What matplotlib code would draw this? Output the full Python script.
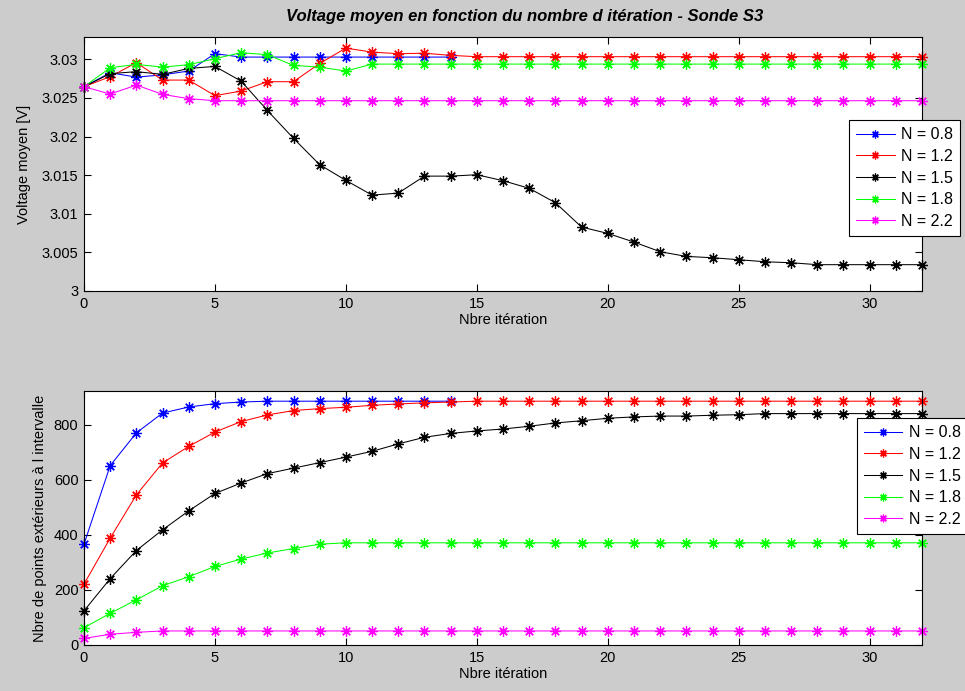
import matplotlib
matplotlib.use("Agg")
import matplotlib.pyplot as plt
from matplotlib.ticker import FuncFormatter

# ---------------- data ----------------
iters = list(range(33))
iters_short = list(range(15))
labels = ["N = 0.8", "N = 1.2", "N = 1.5", "N = 1.8", "N = 2.2"]
colors = ["#0000ff", "#ff0000", "#000000", "#00ff00", "#ff00ff"]

v_08 = [3.02646, 3.02827, 3.02770, 3.02800, 3.02849, 3.03074, 3.03030, 3.03030,
        3.03030, 3.03030, 3.03030, 3.03030, 3.03030, 3.03030, 3.03030]
v_12 = [3.02646, 3.02776, 3.02957, 3.02732, 3.02732, 3.02530, 3.02590, 3.02711,
        3.02711, 3.02948, 3.03146, 3.03094, 3.03074, 3.03080, 3.03052, 3.03035,
        3.03035, 3.03035, 3.03035, 3.03035, 3.03035, 3.03035, 3.03035, 3.03035,
        3.03035, 3.03035, 3.03035, 3.03035, 3.03035, 3.03035, 3.03035, 3.03035,
        3.03035]
v_15 = [3.02646, 3.02815, 3.02841, 3.02806, 3.02883, 3.02909, 3.02719, 3.02339,
        3.01977, 3.01636, 3.01433, 3.01242, 3.01268, 3.01488, 3.01488, 3.01506,
        3.01429, 3.01330, 3.01144, 3.00828, 3.00746, 3.00634, 3.00509, 3.00448,
        3.00431, 3.00405, 3.00379, 3.00366, 3.00341, 3.00341, 3.00341, 3.00341,
        3.00341]
v_18 = [3.02646, 3.02892, 3.02935, 3.02900, 3.02931, 3.03009, 3.03087, 3.03061,
        3.02922, 3.02900, 3.02849, 3.02939, 3.02939, 3.02939, 3.02939, 3.02939,
        3.02939, 3.02939, 3.02939, 3.02939, 3.02939, 3.02939, 3.02939, 3.02939,
        3.02939, 3.02939, 3.02939, 3.02939, 3.02939, 3.02939, 3.02939, 3.02939,
        3.02939]
v_22 = [3.02646, 3.02551, 3.02667, 3.02547, 3.02491, 3.02465, 3.02465, 3.02465,
        3.02465, 3.02465, 3.02465, 3.02465, 3.02465, 3.02465, 3.02465, 3.02465,
        3.02465, 3.02465, 3.02465, 3.02465, 3.02465, 3.02465, 3.02465, 3.02465,
        3.02465, 3.02465, 3.02465, 3.02465, 3.02465, 3.02465, 3.02465, 3.02465,
        3.02465]

n_08 = [366, 651, 770, 842, 864, 876, 882, 885, 885, 885, 885, 885, 885, 885, 885]
n_12 = [221, 388, 545, 661, 721, 773, 811, 835, 851, 858, 863, 870, 875, 879, 882,
        885, 885, 885, 885, 885, 885, 885, 885, 885, 885, 885, 885, 885, 885, 885,
        885, 885, 885]
n_15 = [124, 241, 343, 418, 487, 550, 588, 622, 642, 662, 682, 703, 730, 754, 768,
        777, 784, 794, 806, 814, 823, 828, 831, 831, 834, 836, 840, 840, 840, 840,
        840, 840, 840]
n_18 = [63, 115, 164, 215, 248, 285, 312, 334, 350, 366, 371, 371, 371, 371, 371,
        371, 371, 371, 371, 371, 371, 371, 371, 371, 371, 371, 371, 371, 371, 371,
        371, 371, 371]
n_22 = [24, 39, 46, 51, 51, 51, 51, 51, 51, 51, 51, 51, 51, 51, 51, 51, 51, 51, 51,
        51, 51, 51, 51, 51, 51, 51, 51, 51, 51, 51, 51, 51, 51]

title = "Voltage moyen en fonction du nombre d itération - Sonde S3"
xlabel = "Nbre itération"
ylabel_top = "Voltage moyen [V]"
ylabel_bot = "Nbre de points extérieurs à l intervalle"
xticks = [0, 5, 10, 15, 20, 25, 30]
yticks_top = [3.0, 3.005, 3.01, 3.015, 3.02, 3.025, 3.03]
yticks_bot = [0, 200, 400, 600, 800]

# ---------------- style ----------------
plt.rcParams['font.family'] = ['Liberation Sans', 'DejaVu Sans']
plt.rcParams['font.size'] = 10.5

W, H = 965, 691
fig = plt.figure(figsize=(W / 100, H / 100), dpi=100, facecolor='#cccccc')

def frac(l, t, r, b):
    return [l / W, 1 - b / H, (r - l) / W, (b - t) / H]

ax1 = fig.add_axes(frac(84, 37, 922, 291))
ax2 = fig.add_axes(frac(84, 391, 922, 645))

top_series = [(iters_short, v_08), (iters, v_12), (iters, v_15), (iters, v_18), (iters, v_22)]
bot_series = [(iters_short, n_08), (iters, n_12), (iters, n_15), (iters, n_18), (iters, n_22)]

ASTERISK = (8, 2, 0)

for ax, series in ((ax1, top_series), (ax2, bot_series)):
    for (xs, ys), c, lab in zip(series, colors, labels):
        ax.plot(xs, ys, color=c, marker=ASTERISK, markersize=7.5, markeredgewidth=0.9,
                linewidth=0.75, label=lab, clip_on=False)
    ax.set_xlim(0, 32)
    ax.set_xticks(xticks)
    ax.set_facecolor('white')
    ax.tick_params(direction='in', length=5, width=0.8, top=True, right=True,
                   labelsize=10.5, pad=4)
    for s in ax.spines.values():
        s.set_linewidth(0.8)
    ax.set_xlabel(xlabel, fontsize=10.5, labelpad=2)

ax1.set_ylim(3.0, 3.0329)
ax1.set_yticks(yticks_top)
ax1.yaxis.set_major_formatter(FuncFormatter(lambda v, p: ('%g' % round(v, 4))))
ax1.set_ylabel(ylabel_top, fontsize=10.5, labelpad=8)

ax2.set_ylim(0, 922)
ax2.set_yticks(yticks_bot)
ax2.set_ylabel(ylabel_bot, fontsize=10.5, labelpad=5)

fig.text(525 / W, 1 - 17 / H, title, ha='center', va='center', fontsize=12,
         fontweight='bold', style='italic')

leg_kw = dict(loc='upper left', fontsize=11.5, frameon=True, fancybox=False,
              edgecolor='black', framealpha=1, borderaxespad=0, handlelength=2.4,
              handletextpad=0.4, labelspacing=0.42, borderpad=0.45,
              markerscale=0.75)
l1 = ax1.legend(bbox_to_anchor=(0.913, 0.673), **leg_kw)
l2 = ax2.legend(bbox_to_anchor=(0.922, 0.894), **leg_kw)
for l in (l1, l2):
    l.get_frame().set_linewidth(0.8)
    l.set_zorder(10)

fig.savefig("out.png", dpi=100, facecolor=fig.get_facecolor())
